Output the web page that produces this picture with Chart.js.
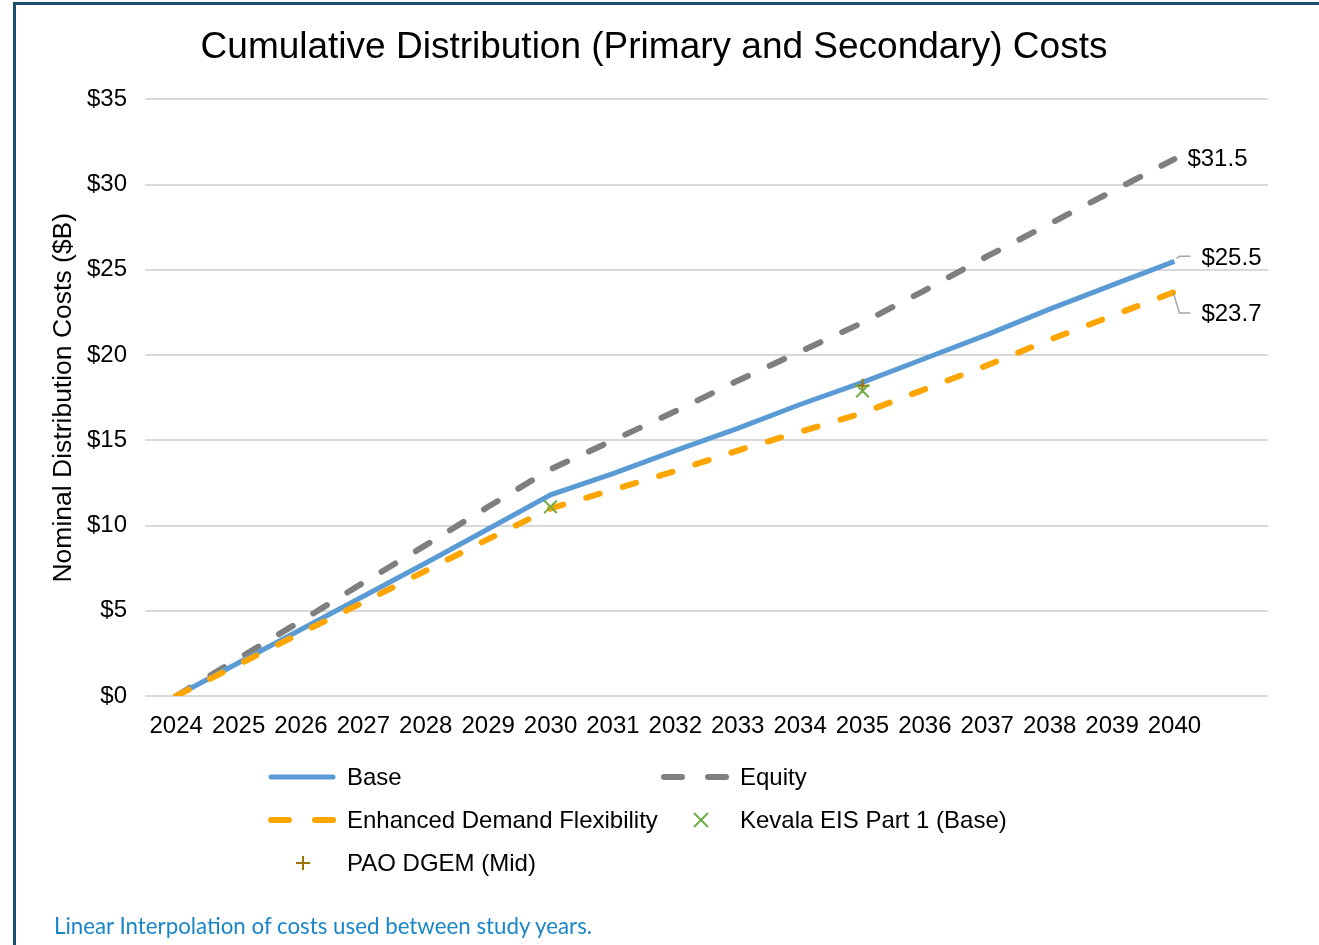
<!DOCTYPE html>
<html>
<head>
<meta charset="utf-8">
<script src="https://cdn.jsdelivr.net/npm/chart.js@4.4.0/dist/chart.umd.min.js"></script>
<style>
  body { margin: 0; background: #fff; width: 1319px; height: 945px; overflow: hidden; position: relative;
         font-family: "Liberation Sans", Arial, sans-serif; }
  #wrap { position: absolute; left: 0; top: 0; width: 1319px; height: 945px; }
  #frame { position: absolute; left: 13px; top: 2px; width: 1400px; height: 1000px;
           border: 3px solid #1B4F6E; box-sizing: border-box; pointer-events: none; }
  #legend { position: absolute; left: 268px; top: 755px; display: grid;
            grid-template-columns: 393px 420px; grid-auto-rows: 43px; }
  .item { display: flex; align-items: center; font-size: 24px; color: #000; white-space: nowrap; }
  .item svg { width: 68px; height: 20px; margin-right: 11px; flex: none; }
  #note { position: absolute; left: 54px; top: 912px; font-family: Lato, "Open Sans", sans-serif;
          font-size: 22.3px; color: #1A86C8; }
</style>
</head>
<body>
<div id="wrap"><canvas id="chart" width="1319" height="945"></canvas></div>
<div id="frame"></div>
<div id="legend"></div>
<div id="note">Linear Interpolation of costs used between study years.</div>
<script>
const years = ['2024', '2025', '2026', '2027', '2028', '2029', '2030', '2031', '2032',
               '2033', '2034', '2035', '2036', '2037', '2038', '2039', '2040'];
const base   = [0, 1.95, 3.9, 5.85, 7.8, 9.8, 11.8, 13.05, 14.4, 15.7, 17.1, 18.4, 19.8, 21.2, 22.7, 24.1, 25.5];
const equity = [0, 2.2, 4.4, 6.65, 8.85, 11.1, 13.3, 15.0, 16.7, 18.5, 20.2, 21.9, 23.8, 25.8, 27.7, 29.6, 31.5];
const edf    = [0, 1.85, 3.7, 5.5, 7.35, 9.2, 11.0, 12.1, 13.2, 14.4, 15.5, 16.6, 18.0, 19.4, 20.9, 22.3, 23.7];
// study-year points only
const kevala = [null, null, null, null, null, null, 11.1, null, null, null, null, 17.9];
const pao    = [null, null, null, null, null, null, null, null, null, null, null, 18.2];
const yTicks = [0, 5, 10, 15, 20, 25, 30, 35];

// labels next to the last point of each line
const endLabels = {
  id: 'endLabels',
  afterDatasetsDraw(chart, args, opts) {
    const ctx = chart.ctx;
    ctx.save();
    ctx.font = opts.font;
    ctx.fillStyle = '#000';
    ctx.textBaseline = 'middle';
    chart.data.datasets.forEach((ds, i) => {
      const lab = opts.labels[ds.label];
      if (!lab) return;
      const last = ds.data.length - 1;
      const pt = chart.getDatasetMeta(i).data[last];
      if (lab.leader) {
        ctx.strokeStyle = '#A6A6A6';
        ctx.lineWidth = 1.5;
        ctx.beginPath();
        lab.leader.forEach(([dx, dy], k) => k ? ctx.lineTo(pt.x + dx, pt.y + dy) : ctx.moveTo(pt.x + dx, pt.y + dy));
        ctx.stroke();
      }
      ctx.fillText('$' + ds.data[last].toFixed(1), pt.x + lab.dx, pt.y + lab.dy);
    });
    ctx.restore();
  }
};

const chart = new Chart(document.getElementById('chart'), {
  type: 'line',
  data: {
    labels: [...years, ''],
    datasets: [
      { label: 'Base', data: base, borderColor: '#5B9BD5', borderWidth: 5, pointRadius: 0, order: 2 },
      { label: 'Equity', data: equity, borderColor: '#7F7F7F', borderWidth: 6, borderDash: [16, 24],
        borderCapStyle: 'round', pointRadius: 0, order: 3 },
      { label: 'Enhanced Demand Flexibility', data: edf, borderColor: '#FFA500', borderWidth: 6,
        borderDash: [14, 24], borderCapStyle: 'round', pointRadius: 0, order: 1 },
      { label: 'Kevala EIS Part 1 (Base)', data: kevala, showLine: false, pointStyle: 'crossRot',
        pointRadius: 9, pointBorderWidth: 2, borderColor: '#70AD47', order: 0 },
      { label: 'PAO DGEM (Mid)', data: pao, showLine: false, pointStyle: 'cross',
        pointRadius: 7, pointBorderWidth: 2, borderColor: '#9C7500', order: 0 }
    ]
  },
  options: {
    responsive: false,
    animation: false,
    layout: { padding: { left: 40, right: 51, top: 0, bottom: 199 } },
    plugins: {
      legend: { display: false },
      tooltip: { enabled: false },
      title: {
        display: true,
        text: 'Cumulative Distribution (Primary and Secondary) Costs',
        color: '#000',
        font: { family: 'Liberation Sans', size: 37, weight: 'normal' },
        padding: { top: 26, bottom: 29 }
      },
      endLabels: {
        font: '24px "Liberation Sans"',
        labels: {
          'Equity': { dx: 13, dy: 0 },
          'Base': { dx: 27, dy: -3, leader: [[2, -3], [5, -5], [16, -5]] },
          'Enhanced Demand Flexibility': { dx: 27, dy: 22, leader: [[-1, 1], [5, 21], [16, 21]] }
        }
      }
    },
    scales: {
      x: {
        offset: true,
        grid: { display: false, drawTicks: false },
        border: { display: false },
        ticks: { color: '#000', padding: 16, maxRotation: 0, autoSkip: false,
                 font: { family: 'Liberation Sans', size: 24 } },
        afterFit: s => { s.height = 50; }
      },
      y: {
        min: 0, max: 35,
        afterBuildTicks: s => { s.ticks = yTicks.map(v => ({ value: v })); },
        grid: { color: '#D9D9D9', lineWidth: 2, drawTicks: false },
        border: { display: false },
        ticks: { color: '#000', padding: 18, callback: v => '$' + v,
                 font: { family: 'Liberation Sans', size: 24 } },
        title: { display: true, text: 'Nominal Distribution Costs ($B)', color: '#000',
                 font: { family: 'Liberation Sans', size: 26.5 }, padding: { top: 8, bottom: 0 } },
        afterFit: s => { s.width = 105; }
      }
    }
  },
  plugins: [endLabels]
});

// legend in two columns, built from the datasets
const legend = document.getElementById('legend');
chart.data.datasets.forEach(ds => {
  let sample;
  if (ds.showLine === false) {
    const c = ds.borderColor;
    sample = ds.pointStyle === 'cross'
      ? `<line x1="35" y1="3" x2="35" y2="17" stroke="${c}" stroke-width="2"/><line x1="28" y1="10" x2="42" y2="10" stroke="${c}" stroke-width="2"/>`
      : `<line x1="33" y1="3" x2="47" y2="17" stroke="${c}" stroke-width="2"/><line x1="47" y1="3" x2="33" y2="17" stroke="${c}" stroke-width="2"/>`;
  } else {
    const dash = ds.borderDash ? 'stroke-dasharray="18 26"' : '';
    sample = `<line x1="3" y1="10" x2="65" y2="10" stroke="${ds.borderColor}" stroke-width="${ds.borderWidth}" stroke-linecap="round" ${dash}/>`;
  }
  const div = document.createElement('div');
  div.className = 'item';
  div.innerHTML = `<svg viewBox="0 0 68 20">${sample}</svg><span>${ds.label}</span>`;
  legend.appendChild(div);
});
</script>
</body>
</html>
